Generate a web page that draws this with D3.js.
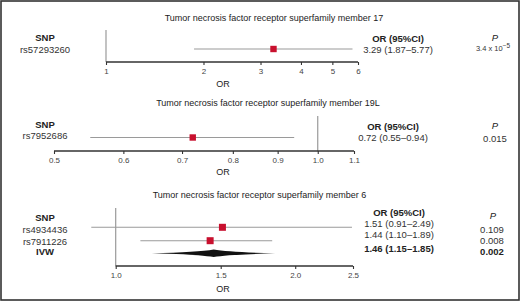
<!DOCTYPE html>
<html><head><meta charset="utf-8">
<script src="https://cdn.jsdelivr.net/npm/d3@7"></script>
<style>
body{margin:0;background:#fff;}
svg{display:block;font-family:"Liberation Sans",Arial,Helvetica,sans-serif;}
</style></head>
<body><svg id="c" width="520" height="302"></svg>
<script>
// ---- data ----
const titles = [
  "Tumor necrosis factor receptor superfamily member 17",
  "Tumor necrosis factor receptor superfamily member 19L",
  "Tumor necrosis factor receptor superfamily member 6"
];
const snps17 = ["rs57293260"];
const or17 = [3.29], lo17 = [1.87], hi17 = [5.77];
const orText17 = ["3.29 (1.87\u20135.77)"];
const ticks17 = [1, 2, 3, 4, 5, 6];

const snps19L = ["rs7952686"];
const or19L = [0.72], lo19L = [0.55], hi19L = [0.94];
const orText19L = ["0.72 (0.55\u20130.94)"];
const pText19L = ["0.015"];
const ticks19L = [0.5, 0.6, 0.7, 0.8, 0.9, 1.0, 1.1];

const snps6 = ["rs4934436", "rs7911226"];
const or6 = [1.51, 1.44], lo6 = [0.91, 1.10], hi6 = [2.49, 1.83];
const orText6 = ["1.51 (0.91\u20132.49)", "1.44 (1.10\u20131.89)"];
const pText6 = ["0.109", "0.008"];
const ivw6 = {or: 1.46, lo: 1.15, hi: 1.85};
const ivwText6 = "1.46 (1.15\u20131.85)";
const ivwP6 = "0.002";
const ticks6 = [1.0, 1.5, 2.0, 2.5];

// ---- drawing ----
const svg = d3.select("#c");
const RED = "#c8102e", GREY = "#9a9a9a", TXT = "#222";

svg.append("rect").attr("x", 1).attr("y", 1).attr("width", 518).attr("height", 299)
  .attr("fill", "none").attr("stroke", "#333").attr("stroke-width", 1.6);

function panel(o) {
  const g = svg.append("g");
  const x = d3.scaleLog().domain(o.domain).range(o.range);
  g.append("text").attr("x", o.titleX).attr("y", o.titleY).attr("text-anchor", "middle")
    .attr("font-size", 9).attr("fill", TXT).text(o.title);
  g.append("line").attr("x1", x(1)).attr("x2", x(1)).attr("y1", o.refTop).attr("y2", o.axisY)
    .attr("stroke", GREY).attr("stroke-width", 1.2);
  const ax = d3.axisBottom(x).tickValues(o.ticks).tickFormat(o.fmt).tickSize(3).tickPadding(3);
  const ag = g.append("g").attr("transform", `translate(0,${o.axisY})`).call(ax);
  ag.select(".domain").attr("stroke", "#333").attr("stroke-width", 1.5).attr("d", `M${o.range[0]},0H${o.range[1]}`);
  ag.selectAll(".tick line").attr("stroke", "#333").attr("stroke-width", 1.1);
  ag.selectAll(".tick text").attr("font-size", 8).attr("fill", "#444").attr("font-family", "Liberation Sans, Arial, sans-serif");
  g.append("text").attr("x", 223).attr("y", o.orLabelY).attr("text-anchor", "middle")
    .attr("font-size", 9).attr("fill", TXT).text("OR");
  g.append("text").attr("x", 45).attr("y", o.snpHeadY).attr("text-anchor", "middle")
    .attr("font-size", 9.5).attr("font-weight", "bold").attr("fill", TXT).text("SNP");
  o.snps.forEach((s, i) => {
    g.append("text").attr("x", 45).attr("y", o.snpY[i]).attr("text-anchor", "middle")
      .attr("font-size", 9.5).attr("fill", "#333").text(s);
  });
  o.or.forEach((v, i) => {
    g.append("line").attr("x1", x(o.lo[i])).attr("x2", x(o.hi[i]))
      .attr("y1", o.rowY[i]).attr("y2", o.rowY[i]).attr("stroke", GREY).attr("stroke-width", 1.1);
    g.append("rect").attr("x", x(v) - o.box / 2).attr("y", o.rowY[i] - o.box / 2)
      .attr("width", o.box).attr("height", o.box).attr("fill", RED);
  });
  g.append("text").attr("x", o.orColX).attr("y", o.orHeadY).attr("text-anchor", "middle")
    .attr("font-size", 9.5).attr("font-weight", "bold").attr("fill", TXT).text("OR (95%CI)");
  o.orText.forEach((t, i) => {
    g.append("text").attr("x", o.orColX).attr("y", o.orTextY[i]).attr("text-anchor", "middle")
      .attr("font-size", 9.5).attr("fill", "#333").text(t);
  });
  g.append("text").attr("x", o.pColX).attr("y", o.pHeadY).attr("text-anchor", "middle")
    .attr("font-size", 9.5).attr("font-style", "italic").attr("fill", TXT).text("P");
  return {g, x};
}

const p1 = panel({
  title: titles[0], titleX: 274, titleY: 21,
  domain: [1, 6], range: [106, 358], ticks: ticks17, fmt: d3.format("d"),
  axisY: 62, refTop: 30, orLabelY: 87,
  snps: snps17, snpHeadY: 41, snpY: [53],
  or: or17, lo: lo17, hi: hi17, rowY: [49], box: 6.4,
  orColX: 398, orHeadY: 42, orText: orText17, orTextY: [53],
  pColX: 495, pHeadY: 41
});
{
  const t = p1.g.append("text").attr("x", 493).attr("y", 51).attr("text-anchor", "middle")
    .attr("font-size", 7.5).attr("fill", "#333");
  t.append("tspan").text("3.4 x 10");
  t.append("tspan").attr("dy", -3).attr("font-size", 6.5).text("\u22125");
}

const p2 = panel({
  title: titles[1], titleX: 268, titleY: 106,
  domain: [0.5, 1.1], range: [54, 354], ticks: ticks19L, fmt: d3.format(".1f"),
  axisY: 151, refTop: 116, orLabelY: 175,
  snps: snps19L, snpHeadY: 127.5, snpY: [139],
  or: or19L, lo: lo19L, hi: hi19L, rowY: [137.5], box: 6.4,
  orColX: 393, orHeadY: 130, orText: orText19L, orTextY: [141],
  pColX: 495, pHeadY: 129
});
pText19L.forEach((t) => {
  p2.g.append("text").attr("x", 495).attr("y", 141.5).attr("text-anchor", "middle")
    .attr("font-size", 9.5).attr("fill", "#333").text(t);
});

const p3 = panel({
  title: titles[2], titleX: 259.5, titleY: 198,
  domain: [1, 2.5], range: [115.7, 353], ticks: ticks6, fmt: d3.format(".1f"),
  axisY: 266, refTop: 208, orLabelY: 292,
  snps: snps6, snpHeadY: 221, snpY: [233, 244.5],
  or: or6, lo: lo6, hi: hi6, rowY: [227.3, 240.7], box: 7,
  orColX: 399, orHeadY: 215.5, orText: orText6, orTextY: [226.5, 237.5],
  pColX: 493, pHeadY: 218.5
});
p3.g.append("text").attr("x", 45).attr("y", 255).attr("text-anchor", "middle")
  .attr("font-size", 9.5).attr("font-weight", "bold").attr("fill", TXT).text("IVW");
pText6.forEach((t, i) => {
  p3.g.append("text").attr("x", 492).attr("y", [232.5, 243.5][i]).attr("text-anchor", "middle")
    .attr("font-size", 9.5).attr("fill", "#333").text(t);
});
p3.g.append("text").attr("x", 399).attr("y", 251.5).attr("text-anchor", "middle")
  .attr("font-size", 9.5).attr("font-weight", "bold").attr("fill", TXT).text(ivwText6);
p3.g.append("text").attr("x", 492).attr("y", 254.5).attr("text-anchor", "middle")
  .attr("font-size", 9.5).attr("font-weight", "bold").attr("fill", TXT).text(ivwP6);
{
  const x = p3.x, y = 253.3, h = 3.8;
  const x0 = x(ivw6.lo), xc = x(ivw6.or), x1 = x(ivw6.hi);
  const cl = x0 + (xc - x0) * 0.75, cr = x1 - (x1 - xc) * 0.75;
  const path = `M${x0},${y} Q${cl},${y - h * 0.3} ${xc},${y - h}` +
    ` Q${cr},${y - h * 0.3} ${x1},${y}` +
    ` Q${cr},${y + h * 0.3} ${xc},${y + h}` +
    ` Q${cl},${y + h * 0.3} ${x0},${y}Z`;
  p3.g.append("path").attr("d", path).attr("fill", "#111");
}
</script></body></html>
